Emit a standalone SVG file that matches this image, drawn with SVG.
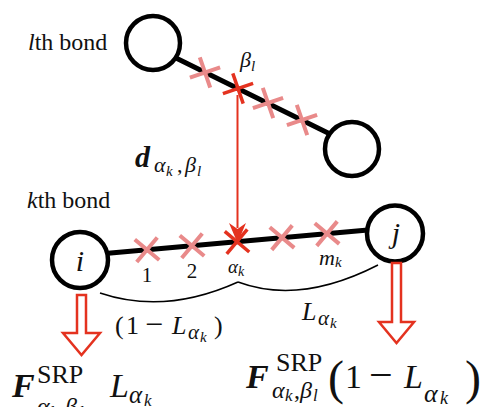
<svg xmlns="http://www.w3.org/2000/svg" width="490" height="407" viewBox="0 0 490 407" font-family="'Liberation Serif', 'Times New Roman', serif">
<style>
  .node { fill: #fff; stroke: #000; stroke-width: 4.5; }
  .bond { stroke: #000; stroke-width: 5; stroke-linecap: round; fill: none; }
  .pink { stroke: #e98a8a; stroke-width: 4; fill: none; }
  .red { stroke: #e4321f; stroke-width: 3.5; fill: none; }
  .redline { stroke: #e4321f; stroke-width: 2; fill: none; }
  .hollow { fill: #fff; stroke: #e4321f; stroke-width: 2.5; stroke-linejoin: miter; }
  .brace { stroke: #000; stroke-width: 1.5; fill: none; }
  .tx { font-family: 'Liberation Serif', 'Times New Roman', serif; fill: #111; }
  .it { font-style: italic; }
  .bi { font-style: italic; font-weight: bold; }
</style>
<defs>
  <path id="cross" d="M-11.3,-11.3 L11.3,11.3 M-11.3,11.3 L11.3,-11.3"/>
</defs>

<!-- labels -->
<text class="tx" x="28" y="50" font-size="24"><tspan class="it">l</tspan>th bond</text>
<text class="tx" x="27" y="208" font-size="24"><tspan class="it">k</tspan>th bond</text>

<!-- l-th bond -->
<g id="bond-l">
  <line class="bond" x1="178" y1="59" x2="328" y2="133"/>
  <use href="#cross" class="pink" transform="translate(205,72.5) rotate(26)"/>
  <use href="#cross" class="pink" transform="translate(268,103) rotate(26)"/>
  <use href="#cross" class="pink" transform="translate(302,120) rotate(26)"/>
  <use href="#cross" class="red" transform="translate(238,88.5) rotate(26)"/>
</g>
<g id="node-l1"><circle class="node" cx="153" cy="43" r="27"/></g>
<g id="node-l2"><circle class="node" cx="352" cy="149" r="27"/></g>
<text class="tx it" x="240" y="67" font-size="22">β<tspan font-size="15" dy="4">l</tspan></text>

<!-- k-th bond -->
<g id="bond-k">
  <line class="bond" x1="108" y1="253.2" x2="368" y2="230"/>
  <use href="#cross" class="pink" transform="translate(147,249.7) rotate(-5)"/>
  <use href="#cross" class="pink" transform="translate(192,245.7) rotate(-5)"/>
  <use href="#cross" class="pink" transform="translate(282,237.6) rotate(-5)"/>
  <use href="#cross" class="pink" transform="translate(327,233.6) rotate(-5)"/>
  <use href="#cross" class="red" transform="translate(237,241.7) rotate(-5)"/>
</g>
<g id="node-i">
  <circle class="node" cx="80" cy="260" r="28"/>
  <text class="tx it" x="80" y="271" font-size="30" text-anchor="middle">i</text>
</g>
<g id="node-j">
  <circle class="node" cx="395" cy="233.5" r="28"/>
  <text class="tx it" x="396" y="243" font-size="30" text-anchor="middle">j</text>
</g>

<text class="tx" x="147" y="282" font-size="21" text-anchor="middle">1</text>
<text class="tx" x="192" y="278" font-size="21" text-anchor="middle">2</text>
<text class="tx it" x="228" y="273" font-size="19">α<tspan font-size="14" dy="3">k</tspan></text>
<text class="tx it" x="319" y="265" font-size="22">m<tspan font-size="15" dy="2">k</tspan></text>

<!-- connectors -->
<g id="connectors">
  <line class="redline" x1="237.5" y1="95" x2="237.5" y2="228"/>
  <path d="M229,223 L237.5,229 L246,223 L237.5,243 Z" fill="#e4321f"/>
  <path class="brace" d="M100,293 Q165,315 238,282"/>
  <path class="brace" d="M238,282 Q300,305 378,265"/>
  <path class="hollow" d="M77,295 L86,295 L86,333 L100,333 L81.5,355 L63,333 L77,333 Z"/>
  <path class="hollow" d="M392,263 L401,263 L401,322 L414,322 L396.5,343 L379,322 L392,322 Z"/>
</g>

<!-- d label -->
<text class="tx" x="135" y="167" font-size="30"><tspan class="bi">d</tspan><tspan class="it" font-size="22" x="154" y="172">α</tspan><tspan class="it" font-size="15" x="166" y="176">k</tspan><tspan font-size="22" x="177" y="172">,</tspan><tspan class="it" font-size="22" x="185" y="172">β</tspan><tspan class="it" font-size="15" x="197" y="176">l</tspan></text>

<!-- brace labels -->
<text class="tx" x="115" y="334" font-size="26">(<tspan x="126">1</tspan><tspan font-size="32" x="145" y="335">−</tspan><tspan class="it" x="172" y="334">L</tspan><tspan class="it" font-size="21" x="188" y="339">α</tspan><tspan class="it" font-size="15" x="200" y="342">k</tspan><tspan x="214" y="334">)</tspan></text>
<text class="tx" x="302" y="320" font-size="26"><tspan class="it">L</tspan><tspan class="it" font-size="21" x="318" y="325">α</tspan><tspan class="it" font-size="15" x="330" y="328">k</tspan></text>

<!-- force formulas -->
<text class="tx" x="12" y="397" font-size="34"><tspan class="bi">F</tspan><tspan font-size="26" x="37" y="383">SRP</tspan><tspan class="it" font-size="24" x="37" y="414">α</tspan><tspan class="it" font-size="17" x="50" y="418">k</tspan><tspan font-size="24" x="59" y="414">,</tspan><tspan class="it" font-size="24" x="65" y="414">β</tspan><tspan class="it" font-size="17" x="79" y="418">l</tspan><tspan class="it" x="110" y="397">L</tspan><tspan class="it" font-size="25" x="129" y="403">α</tspan><tspan class="it" font-size="17" x="144" y="406">k</tspan></text>

<text class="tx" x="246" y="388" font-size="34"><tspan class="bi">F</tspan><tspan font-size="26" x="276" y="371">SRP</tspan><tspan class="it" font-size="24" x="272" y="398">α</tspan><tspan class="it" font-size="17" x="285" y="401">k</tspan><tspan font-size="24" x="294" y="398">,</tspan><tspan class="it" font-size="24" x="300" y="398">β</tspan><tspan class="it" font-size="17" x="313" y="401">l</tspan><tspan font-size="48" x="328" y="394">(</tspan><tspan x="345" y="388">1</tspan><tspan font-size="42" x="369" y="389">−</tspan><tspan class="it" x="404" y="388">L</tspan><tspan class="it" font-size="26" x="424" y="402">α</tspan><tspan class="it" font-size="18" x="440" y="404">k</tspan><tspan font-size="48" x="465" y="394">)</tspan></text>
</svg>
